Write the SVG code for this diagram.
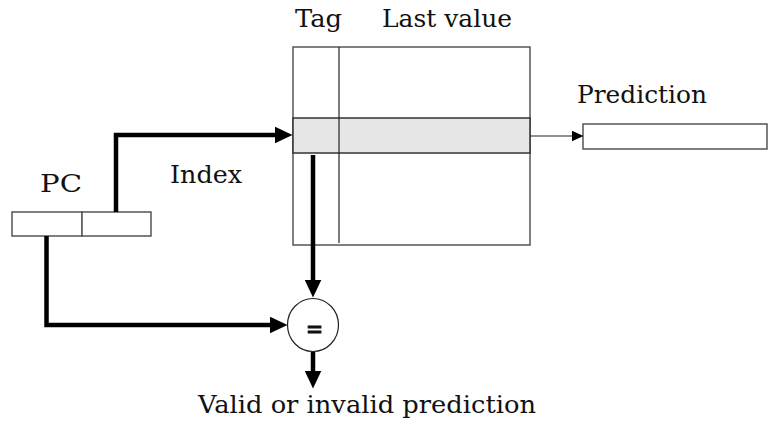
<svg xmlns="http://www.w3.org/2000/svg" width="768" height="425" viewBox="0 0 768 425">
<style>
  .box { fill: #ffffff; stroke: #555555; stroke-width: 1.5; }
  .row { fill: #e6e6e6; stroke: #333333; stroke-width: 1.5; }
  .div { stroke: #222222; stroke-width: 1.2; fill: none; }
  .thick { stroke: #000000; stroke-width: 4.5; fill: none; }
  .thin { stroke: #222222; stroke-width: 1.2; fill: none; }
  .lbl { font-family: "DejaVu Serif", "Liberation Serif", serif; font-size: 25px; fill: #111111; }
</style>
<defs>
  <marker id="bigHead" markerUnits="userSpaceOnUse" viewBox="0 0 18 17" markerWidth="18" markerHeight="17" refX="0.5" refY="8.5" orient="auto">
    <path d="M0,0 L18,8.5 L0,17 z" fill="#000000"/>
  </marker>
  <marker id="smallHead" markerUnits="userSpaceOnUse" viewBox="0 0 12 11" markerWidth="12" markerHeight="11" refX="0.5" refY="5.5" orient="auto">
    <path d="M0,0 L12,5.5 L0,11 z" fill="#000000"/>
  </marker>
</defs>

<g id="pc">
  <rect class="box" x="12" y="212" width="70" height="24"/>
  <rect class="box" x="82" y="212" width="69" height="24"/>
  <text class="lbl" x="40" y="192" font-size="31" textLength="42" lengthAdjust="spacingAndGlyphs">PC</text>
</g>

<g id="table">
  <rect class="box" x="293" y="47" width="237" height="198"/>
  <rect class="row" x="293" y="118" width="237" height="35"/>
  <line class="div" x1="339" y1="47" x2="339" y2="243"/>
  <text class="lbl" x="295" y="27" textLength="47" lengthAdjust="spacingAndGlyphs">Tag</text>
  <text class="lbl" x="382" y="27" textLength="130" lengthAdjust="spacingAndGlyphs">Last value</text>
</g>

<g id="prediction">
  <rect class="box" x="583" y="124" width="184" height="25"/>
  <text class="lbl" x="577" y="103" textLength="130" lengthAdjust="spacingAndGlyphs">Prediction</text>
</g>

<g id="compare">
  <ellipse cx="313" cy="325" rx="25.5" ry="26.5" fill="#ffffff" stroke="#222222" stroke-width="1.2"/>
  <text class="lbl" x="314.5" y="337" text-anchor="middle" font-size="44" stroke="#111111" stroke-width="1.2" textLength="17" lengthAdjust="spacingAndGlyphs">=</text>
</g>

<g id="labels">
  <text class="lbl" x="170" y="183" textLength="72" lengthAdjust="spacingAndGlyphs">Index</text>
  <text class="lbl" x="198" y="413" textLength="338" lengthAdjust="spacingAndGlyphs">Valid or invalid prediction</text>
</g>

<g id="connectors">
  <path class="thick" d="M116,212 V135 H275" marker-end="url(#bigHead)"/>
  <path class="thick" d="M313,155 V280" marker-end="url(#bigHead)"/>
  <path class="thick" d="M46.5,236 V325 H270" marker-end="url(#bigHead)"/>
  <path class="thick" d="M313,352 V371" marker-end="url(#bigHead)"/>
  <path class="thin" d="M530,136 H572" marker-end="url(#smallHead)"/>
</g>
</svg>
